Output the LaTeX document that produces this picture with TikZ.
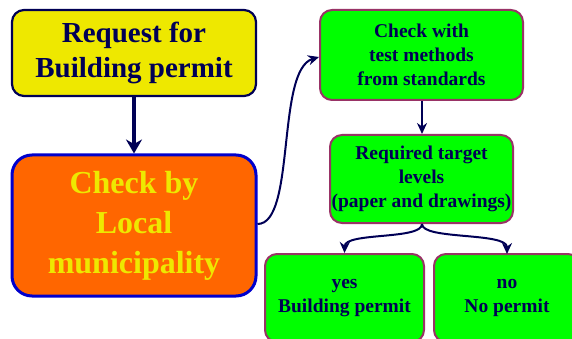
\documentclass[tikz,border=0pt]{standalone}
\usepackage{fontspec}
\setmainfont{Liberation Serif}
\usetikzlibrary{arrows.meta}
\definecolor{navy}{HTML}{000055}
\definecolor{ylw}{HTML}{EEE800}
\definecolor{orng}{HTML}{FF6600}
\definecolor{grn}{HTML}{00FF00}
\definecolor{bblue}{HTML}{0000CC}
\definecolor{plum}{HTML}{993366}
\tikzset{
  box/.style={rectangle, rounded corners=12pt, align=center, inner sep=0pt, font=\bfseries},
  ybox/.style={box, fill=ylw, draw=navy, line width=2.2pt, text=navy,
    font=\bfseries\fontsize{29}{35}\selectfont},
  obox/.style={box, rounded corners=20pt, fill=orng, draw=bblue, line width=3pt, text=ylw,
    font=\bfseries\fontsize{32}{40}\selectfont},
  gbox/.style={box, fill=grn, draw=plum, line width=2pt, text=navy,
    font=\bfseries\fontsize{19.5}{24}\selectfont},
  conn/.style={draw=navy, line width=2pt, -{Stealth[length=11pt,width=10pt]}},
  bigconn/.style={draw=navy, line width=3.5pt, -{Stealth[length=14pt,width=16pt]}}
}
\begin{document}
\begin{tikzpicture}[x=1pt,y=-1pt]
\useasboundingbox (0,0) rectangle (572,339);
\clip (0,0) rectangle (572,339);
\node[ybox, minimum width=244pt, minimum height=86pt] (req) at (134,53) {Request for\\Building permit};
\node[obox, minimum width=244pt, minimum height=141pt] (chk) at (134,225.5) {Check by\\Local\\municipality};
\node[gbox, minimum width=203pt, minimum height=90pt] (tst) at (421.5,55) {Check with\\test methods\\from standards};
\node[gbox, minimum width=183pt, minimum height=88pt] (lvl) at (421.5,179) {Required target\\levels\\(paper and drawings)};
\node[gbox, minimum width=159pt, minimum height=88pt] (yes) at (344.5,298) {yes\\Building permit};
\node[gbox, minimum width=146pt, minimum height=88pt] (no) at (507,298) {no\\No permit};
\coordinate (nt) at (507,254);
\draw[bigconn] (req.south) -- (chk.north);
\draw[conn] (chk.east |- 0,224) .. controls (296,224) and (276,70) .. (tst.west |- 0,57);
\draw[conn] (tst.south -| 422,0) -- (lvl.north -| 422,0);
\draw[conn] (lvl.south -| 422,0) .. controls (422,240) and (345,232) .. (yes.north);
\draw[conn] (lvl.south -| 422,0) .. controls (422,240) and (507,232) .. (nt);
\end{tikzpicture}
\end{document}
